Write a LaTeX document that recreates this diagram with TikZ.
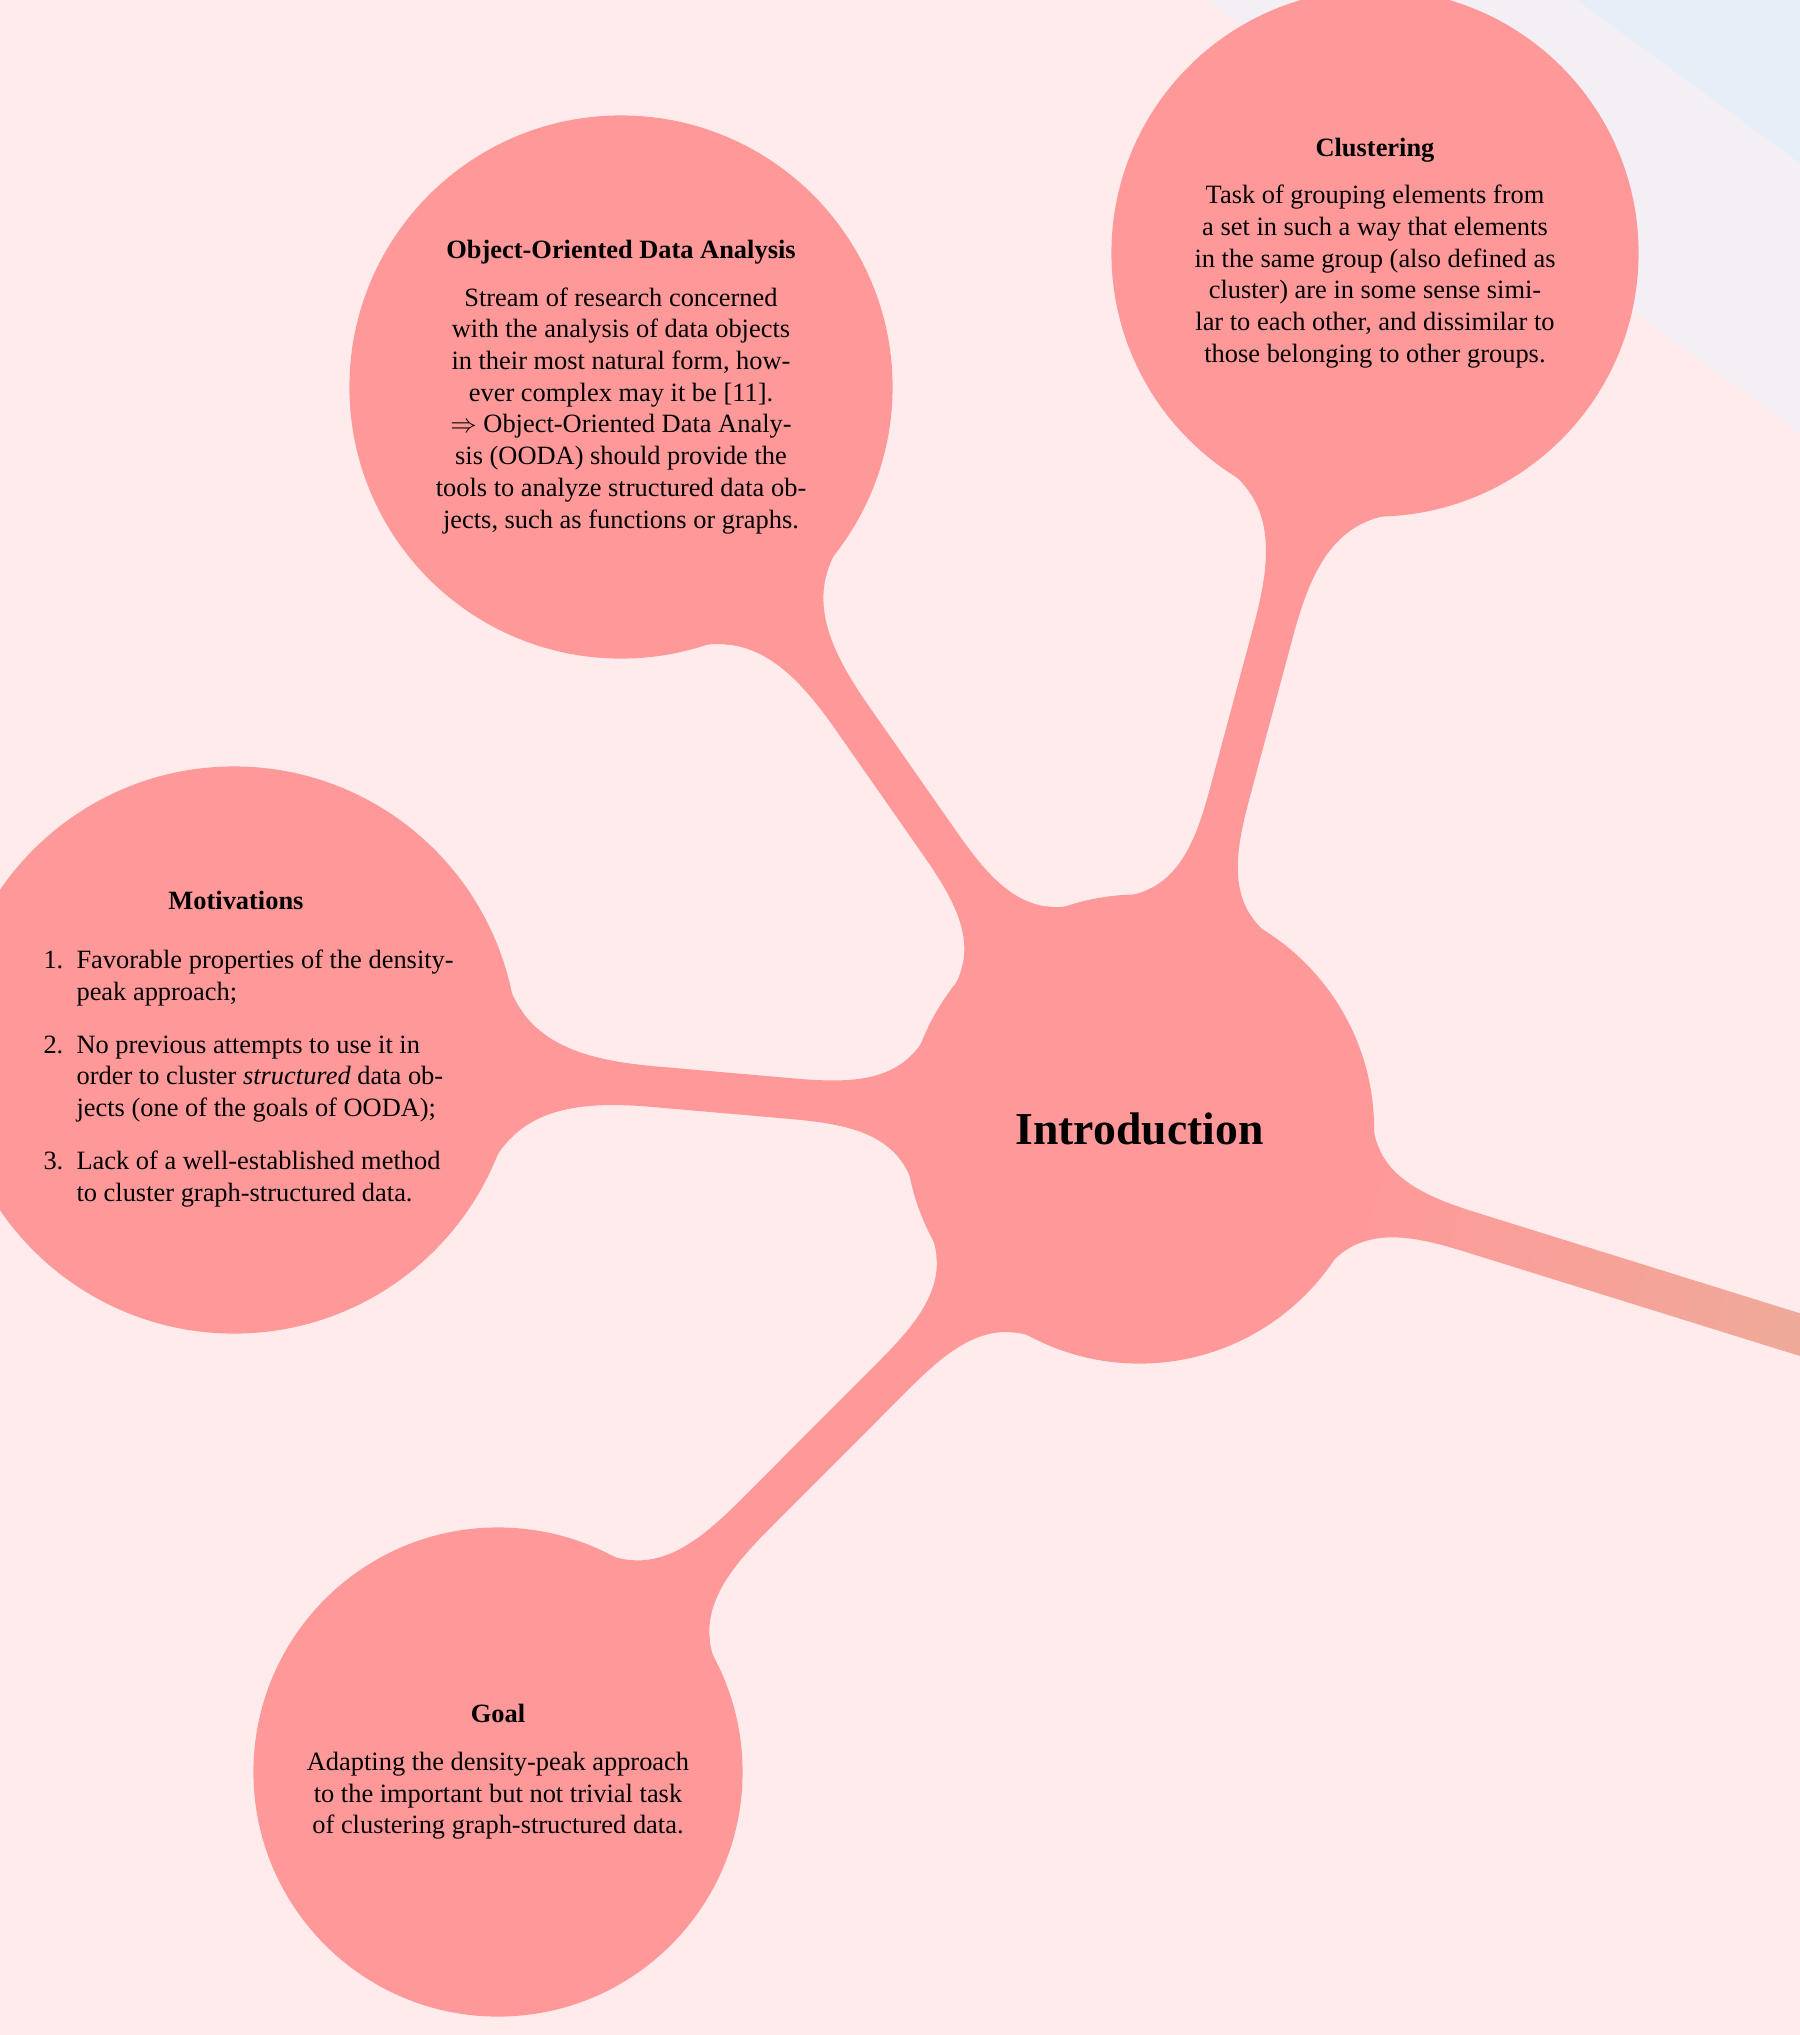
\documentclass[tikz,border=0pt]{standalone}
\usepackage{fontspec}
\setmainfont{Liberation Serif}
\usetikzlibrary{mindmap}
\pgfdeclarelayer{bg}
\pgfsetlayers{bg,main}
\definecolor{bgpink}{RGB}{255,235,235}
\definecolor{bglav}{RGB}{244,239,245}
\definecolor{bgblue}{RGB}{230,238,248}
\definecolor{conc}{RGB}{255,153,153}
\begin{document}
\begin{tikzpicture}[x=0.3785pt,y=-0.3785pt,
  concept node/.style={circle,fill=conc,draw=conc,line width=1.2pt,outer sep=0pt,inner sep=0pt,align=center,minimum size=#1*0.3785pt},
  ghost node/.style={circle,outer sep=0pt,inner sep=0pt,minimum size=#1*0.3785pt},
  bar/.style={line width=15.1pt},
]
\useasboundingbox (0,0) rectangle (1800,2035);

% concepts
\node[concept node=466, font=\LARGE\bfseries] (intro) at (1139.5,1129) {Introduction};

\node[concept node=540] (ooda) at (621,387) {\textbf{Object-Oriented Data Analysis}\\[6pt]
Stream of research concerned\\
with the analysis of data objects\\
in their most natural form, how-\\
ever complex may it be [11].\\
$\Rightarrow$ Object-Oriented Data Analy-\\
sis (OODA) should provide the\\
tools to analyze structured data ob-\\
jects, such as functions or graphs.};

\node[concept node=524] (clust) at (1375,253) {\textbf{Clustering}\\[6pt]
Task of grouping elements from\\
a set in such a way that elements\\
in the same group (also defined as\\
cluster) are in some sense simi-\\
lar to each other, and dissimilar to\\
those belonging to other groups.};

\node[concept node=564] (motiv) at (234,1050) {};
\node[anchor=base, font=\bfseries] (motivtitle) at (236,909) {Motivations};
\node[anchor=base west, inner sep=0pt] (motivlist) at (43,968.6) {\begin{tabular}[t]{@{}r@{\hspace{5pt}}l@{}}
1. & Favorable properties of the density-\\
   & peak approach;\\[8pt]
2. & No previous attempts to use it in\\
   & order to cluster \textit{structured} data ob-\\
   & jects (one of the goals of OODA);\\[8pt]
3. & Lack of a well-established method\\
   & to cluster graph-structured data.
\end{tabular}};

\node[concept node=486] (goal) at (498,1772) {\textbf{Goal}\\[6pt]
Adapting the density-peak approach\\
to the important but not trivial task\\
of clustering graph-structured data.};

\node[ghost node=466] (next) at (4290,2110) {};

\begin{pgfonlayer}{bg}
  \fill[bgpink] (0,0) rectangle (1800,2035);
  \fill[bglav] (1208,0) -- (1800,433) -- (1800,163) -- (1577,0) -- cycle;
  \fill[bgblue] (1577,0) -- (1800,163) -- (1800,0) -- cycle;
  \path[bar] (intro) to[circle connection bar switch color=from (conc) to (conc)] (ooda);
  \path[bar] (intro) to[circle connection bar switch color=from (conc) to (conc)] (clust);
  \path[bar] (intro) to[circle connection bar switch color=from (conc) to (conc)] (motiv);
  \path[bar] (intro) to[circle connection bar switch color=from (conc) to (conc)] (goal);
  \path[bar] (intro) to[circle connection bar switch color=from (conc) to (green!40)] (next);
\end{pgfonlayer}
\end{tikzpicture}
\end{document}
